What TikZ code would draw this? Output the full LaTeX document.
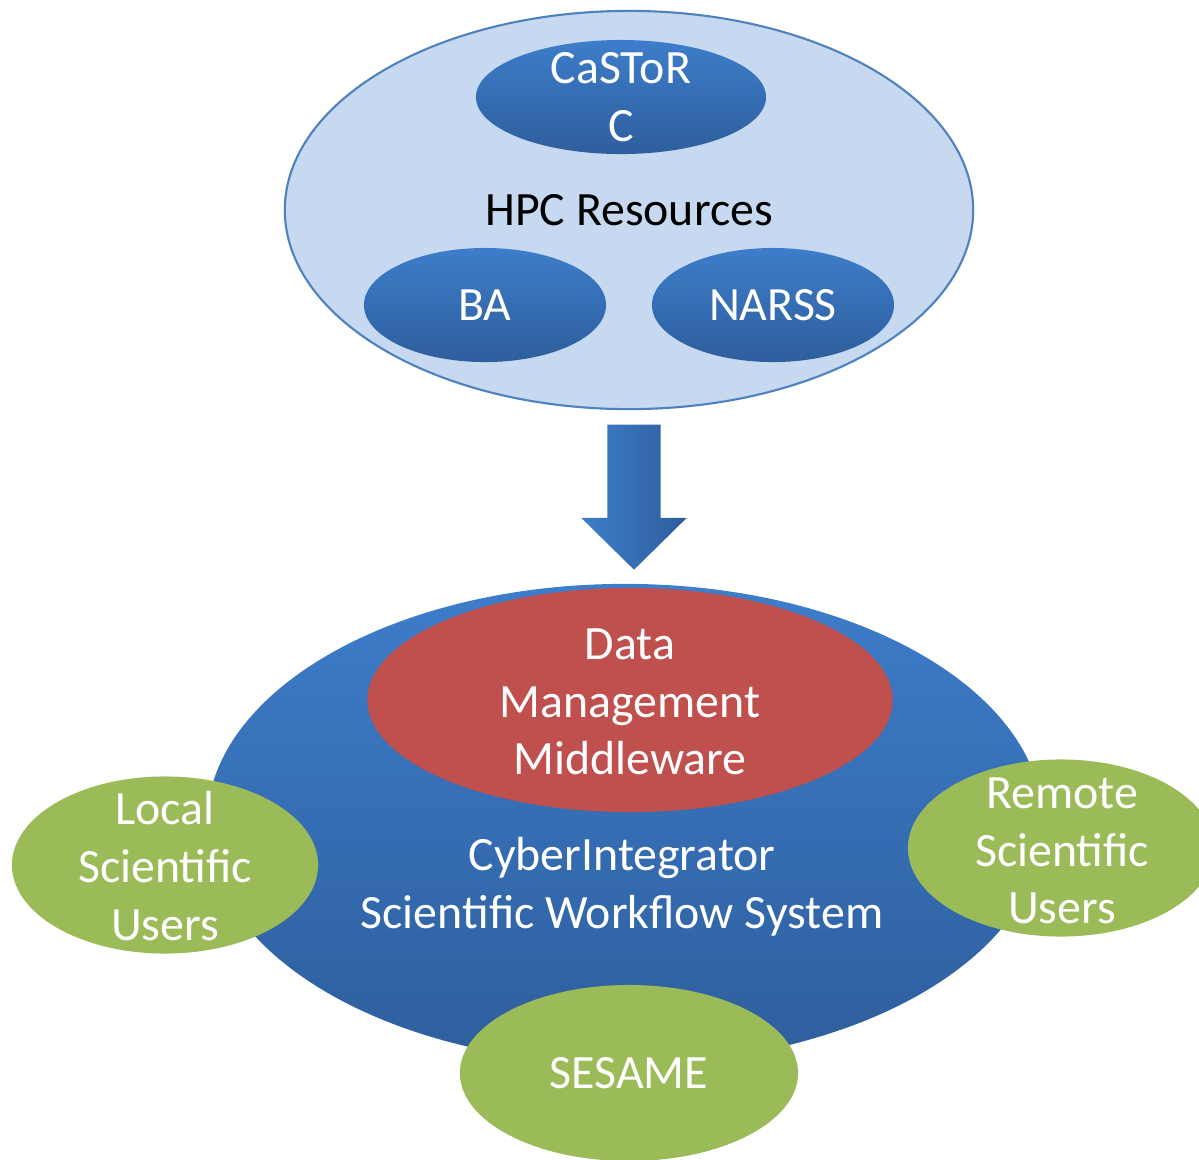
\documentclass[tikz,border=0pt]{standalone}
\usepackage{fontspec}
\setmainfont{Carlito}
\usetikzlibrary{shapes.geometric,shapes.arrows}
\definecolor{hpcfill}{HTML}{C6D9F1}
\definecolor{hpcline}{HTML}{4F81BD}
\definecolor{bluetop}{HTML}{3D7DCA}
\definecolor{bluebot}{HTML}{2E5E9C}
\definecolor{dmmred}{HTML}{C0504D}
\definecolor{usergreen}{HTML}{9BBB59}
\newcommand{\boxfont}{\fontsize{13.6pt}{16.4pt}\selectfont}

\begin{document}
\begin{tikzpicture}[x=0.01cm, y=-0.01cm,
  hpcset/.style={ellipse, draw=hpcline, line width=0.6pt, fill=hpcfill, inner sep=0pt},
  res/.style={ellipse, inner sep=0pt, top color=bluetop, bottom color=bluebot,
    minimum width=2.42cm, minimum height=1.14cm},
  user/.style={ellipse, inner sep=0pt, fill=usergreen,
    minimum width=3.06cm, minimum height=1.77cm},
  txt/.style={inner sep=0pt, align=center, text=white, font=\boxfont}]
  \clip (0,0) rectangle (1199,1159);

  % HPC side
  \node[hpcset, minimum width=6.88cm, minimum height=3.98cm] (hpc) at (629,210) {};
  \node[res, minimum width=2.90cm] (castor) at (621,97) {};
  \node[res] (ba) at (485,305) {};
  \node[res] (narss) at (773,305) {};
  \node[txt] (castor-txt) at (castor) {CaSToR\\C};
  \node[txt, text=black] (hpc-txt) at (hpc) {HPC Resources};
  \node[txt] (ba-txt) at (ba) {BA};
  \node[txt] (narss-txt) at (narss) {NARSS};

  % arrow
  \node[single arrow, rotate=-90, inner xsep=0pt, inner ysep=0.26cm, left color=bluetop, right color=bluebot,
    minimum height=1.45cm, single arrow head extend=0.26cm,
    single arrow tip angle=91, single arrow head indent=0pt] (down) at (634,484) {};

  % workflow system
  \node[ellipse, inner sep=0pt, top color=bluetop, bottom color=bluebot,
    minimum width=8.36cm, minimum height=4.80cm] (cyber) at (625,824) {};
  \node[ellipse, inner sep=0pt, fill=dmmred, minimum width=5.25cm, minimum height=2.24cm] (dmm) at (630,700) {};
  \node[user] (local) at (165,865) {};
  \node[user] (remote) at (1061,848) {};
  \node[user, minimum width=3.38cm, minimum height=1.76cm] (sesame) at (629,1073) {};

  \node[txt] (dmm-txt) at (630,702) {Data\\Management\\Middleware};
  \node[txt] (cyber-txt) at (622,887) {CyberIntegrator\\Scientific Workflow System};
  \node[txt] (local-txt) at (165,866) {Local\\Scientific\\Users};
  \node[txt] (remote-txt) at (1062,851) {Remote\\Scientific\\Users};
  \node[txt] (sesame-txt) at (sesame) {SESAME};
\end{tikzpicture}
\end{document}
